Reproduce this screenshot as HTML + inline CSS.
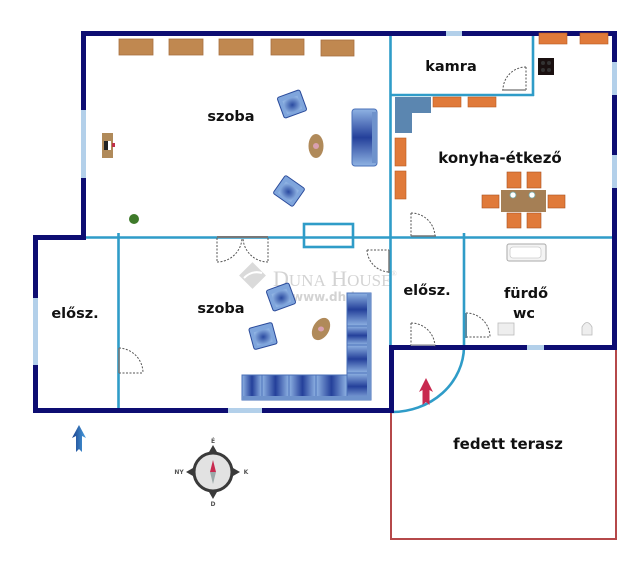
<!DOCTYPE html>
<html><head><meta charset="utf-8"><style>
html,body{margin:0;padding:0;background:#fff;}
svg{display:block;}
text{font-family:"DejaVu Sans","Liberation Sans",sans-serif;font-weight:bold;fill:#111;}
</style></head><body>
<svg width="640" height="561" viewBox="0 0 640 561" xmlns="http://www.w3.org/2000/svg">
<defs>
<linearGradient id="bh" x1="0" y1="0" x2="1" y2="0">
<stop offset="0" stop-color="#8fb3e3"/><stop offset="0.5" stop-color="#24409a"/><stop offset="1" stop-color="#8fb3e3"/>
</linearGradient>
<linearGradient id="bv" x1="0" y1="0" x2="0" y2="1">
<stop offset="0" stop-color="#8fb3e3"/><stop offset="0.5" stop-color="#24409a"/><stop offset="1" stop-color="#8fb3e3"/>
</linearGradient>
<radialGradient id="ch" cx="0.5" cy="0.5" r="0.6">
<stop offset="0" stop-color="#2a4aa0"/><stop offset="1" stop-color="#8fb3e3"/>
</radialGradient>
<linearGradient id="ab" x1="0" y1="0" x2="1" y2="0">
<stop offset="0" stop-color="#1a3f8a"/><stop offset="1" stop-color="#4aa0e0"/>
</linearGradient>
</defs>

<!-- watermark -->
<g opacity="0.9">
<rect x="243" y="266" width="19" height="19" fill="#d6d6d6" transform="rotate(45 252.5 275.5)"/>
<path d="M244 278 Q252 270 262 273" stroke="#fff" stroke-width="2" fill="none"/>
<text x="273" y="286" style="font-family:'Liberation Serif',serif;font-weight:normal;fill:#cfcfcf" font-size="22">D<tspan font-size="17">UNA</tspan> H<tspan font-size="17">OUSE</tspan><tspan font-size="7" dy="-10">®</tspan></text>
<text x="292" y="301" style="fill:#cfcfcf" font-size="12">www.dh.hu</text>
</g>

<!-- terrace -->
<path d="M391 412 V539 H616 V348" fill="none" stroke="#b5484a" stroke-width="2"/>

<!-- thin teal walls -->
<g stroke="#2f9cc8" stroke-width="2.6" fill="none">
<line x1="86" y1="237.5" x2="612" y2="237.5"/>
<line x1="390.5" y1="36" x2="390.5" y2="347"/>
<line x1="533" y1="36" x2="533" y2="96"/>
<line x1="391" y1="95" x2="534" y2="95"/>
<line x1="118.5" y1="233" x2="118.5" y2="408"/>
<line x1="464" y1="233" x2="464" y2="347"/>
<rect x="304" y="224" width="49" height="23"/>
<path d="M464 347 A72 66 0 0 1 392 412"/>
</g>

<!-- thick navy walls -->
<g fill="#0d0d72">
<rect x="81" y="31" width="536" height="5"/>
<rect x="81" y="31" width="5" height="209"/>
<rect x="33" y="235" width="53" height="5"/>
<rect x="33" y="235" width="5" height="178"/>
<rect x="33" y="408" width="361" height="5"/>
<rect x="389" y="345" width="5" height="68"/>
<rect x="389" y="345" width="228" height="5"/>
<rect x="612" y="31" width="5" height="319"/>
</g>
<!-- windows -->
<g fill="#b3d0ea">
<rect x="446" y="31" width="16" height="5"/>
<rect x="81" y="110" width="5" height="68"/>
<rect x="33" y="298" width="5" height="67"/>
<rect x="228" y="408" width="34" height="5"/>
<rect x="527" y="345" width="17" height="5"/>
<rect x="612" y="62" width="5" height="33"/>
<rect x="612" y="155" width="5" height="33"/>
</g>

<!-- upper room cabinets -->
<g fill="#c08850" stroke="#a87040" stroke-width="0.8">
<rect x="119" y="39" width="34" height="16"/>
<rect x="169" y="39" width="34" height="16"/>
<rect x="219" y="39" width="34" height="16"/>
<rect x="271" y="39" width="33" height="16"/>
<rect x="321" y="40" width="33" height="16"/>
</g>
<!-- desk & plant -->
<rect x="102" y="133" width="11" height="25" fill="#b08a5a"/>
<rect x="104" y="141" width="4" height="9" fill="#222"/>
<rect x="108" y="141" width="3" height="9" fill="#fff"/>
<rect x="112" y="143" width="3" height="4" fill="#c0304a"/>
<circle cx="134" cy="219" r="5" fill="#3e7a2a"/>

<!-- upper armchairs / sofa / table -->
<g transform="rotate(-20 292 104)">
<rect x="280" y="93" width="24" height="22" rx="2" fill="#7fa5dc" stroke="#2a4a9a" stroke-width="1"/>
<rect x="284" y="98" width="16" height="14" fill="url(#ch)"/>
</g>
<g transform="rotate(35 289 191)">
<rect x="277" y="180" width="24" height="22" rx="2" fill="#7fa5dc" stroke="#2a4a9a" stroke-width="1"/>
<rect x="281" y="185" width="16" height="14" fill="url(#ch)"/>
</g>
<ellipse cx="316" cy="146" rx="7.5" ry="12" fill="#b08a5a"/>
<ellipse cx="316" cy="146" rx="3" ry="3" fill="#d9a0b0"/>
<rect x="352" y="109" width="25" height="57" rx="3" fill="url(#bv)" stroke="#4a70b8" stroke-width="1"/>
<rect x="372" y="112" width="5" height="51" fill="#6e92cc"/>

<!-- kamra door -->
<g fill="none" stroke="#555" stroke-width="1" stroke-dasharray="2 1.5">
<path d="M526 67 A23 23 0 0 0 503 90"/>
<line x1="526" y1="67" x2="526" y2="90"/>
</g>
<line x1="502" y1="90" x2="526" y2="90" stroke="#888" stroke-width="1.5"/>

<!-- kitchen -->
<g fill="#e07a3a" stroke="#b85a20" stroke-width="0.6">
<rect x="539" y="33" width="28" height="11"/>
<rect x="580" y="33" width="28" height="11"/>
<rect x="433" y="97" width="28" height="10"/>
<rect x="468" y="97" width="28" height="10"/>
<rect x="395" y="138" width="11" height="28"/>
<rect x="395" y="171" width="11" height="28"/>
</g>
<rect x="538" y="58" width="16" height="17" fill="#1a1010"/>
<circle cx="543" cy="63" r="2" fill="#333"/><circle cx="549" cy="63" r="2" fill="#333"/>
<circle cx="543" cy="70" r="2" fill="#333"/><circle cx="549" cy="70" r="2" fill="#333"/>
<path d="M395 97 H431 V113 H412 V133 H395 Z" fill="#5b86b0"/>

<g fill="#e07a3a" stroke="#a85020" stroke-width="0.6">
<rect x="507" y="172" width="14" height="16"/>
<rect x="527" y="172" width="14" height="16"/>
<rect x="507" y="213" width="14" height="15"/>
<rect x="527" y="213" width="14" height="15"/>
<rect x="482" y="195" width="17" height="13"/>
<rect x="548" y="195" width="17" height="13"/>
</g>
<rect x="501" y="190" width="45" height="22" fill="#a57f55"/>
<circle cx="513" cy="195" r="3" fill="#fff" stroke="#7aa" stroke-width="0.8"/>
<circle cx="532" cy="195" r="3" fill="#fff" stroke="#7aa" stroke-width="0.8"/>

<!-- kitchen door -->
<g fill="none" stroke="#555" stroke-width="1" stroke-dasharray="2 1.5">
<path d="M411 213 A24 24 0 0 1 435 237"/>
<line x1="411" y1="213" x2="411" y2="237"/>
</g>
<line x1="411" y1="236" x2="436" y2="236" stroke="#777" stroke-width="1.5"/>

<!-- double door -->
<g fill="none" stroke="#555" stroke-width="1" stroke-dasharray="2 1.5">
<path d="M217 262 A25 25 0 0 0 242 238"/>
<line x1="217" y1="238" x2="217" y2="262"/>
<path d="M268 262 A25 25 0 0 1 243 238"/>
<line x1="268" y1="238" x2="268" y2="262"/>
</g>
<line x1="217" y1="237" x2="268" y2="237" stroke="#777" stroke-width="2"/>

<!-- door near előszoba -->
<g fill="none" stroke="#555" stroke-width="1" stroke-dasharray="2 1.5">
<path d="M367 250 A23 23 0 0 0 389 272"/>
<line x1="367" y1="250" x2="389" y2="250"/>
</g>
<line x1="389" y1="250" x2="389" y2="273" stroke="#777" stroke-width="1.5"/>

<!-- lower left door -->
<g fill="none" stroke="#555" stroke-width="1" stroke-dasharray="2 1.5">
<path d="M119 348 A25 25 0 0 1 143 373"/>
<line x1="119" y1="373" x2="143" y2="373"/>
</g>
<line x1="119" y1="348" x2="119" y2="373" stroke="#777" stroke-width="1.5"/>

<!-- előszoba right door -->
<g fill="none" stroke="#555" stroke-width="1" stroke-dasharray="2 1.5">
<path d="M411 323 A24 24 0 0 1 435 347"/>
<line x1="411" y1="323" x2="411" y2="347"/>
</g>
<line x1="411" y1="345" x2="435" y2="345" stroke="#aaa" stroke-width="1.5"/>

<!-- fürdő door -->
<g fill="none" stroke="#555" stroke-width="1" stroke-dasharray="2 1.5">
<path d="M466 313 A24 24 0 0 1 490 337"/>
<line x1="466" y1="337" x2="490" y2="337"/>
</g>
<line x1="466" y1="313" x2="466" y2="338" stroke="#5a8aa0" stroke-width="2"/>

<!-- bathroom -->
<rect x="507" y="244" width="39" height="17" rx="2" fill="#f4f4f4" stroke="#aaa" stroke-width="1"/>
<rect x="510" y="247" width="31" height="11" rx="3" fill="#fff" stroke="#ccc" stroke-width="0.8"/>
<rect x="498" y="323" width="16" height="12" fill="#eee" stroke="#bbb" stroke-width="0.8"/>
<path d="M582 335 V327 Q587 318 592 327 V335 Z" fill="#eee" stroke="#bbb" stroke-width="0.8"/>

<!-- lower armchairs, table, sofa -->
<g transform="rotate(-20 281 297)">
<rect x="269" y="286" width="24" height="22" rx="2" fill="#7fa5dc" stroke="#2a4a9a" stroke-width="1"/>
<rect x="273" y="291" width="16" height="14" fill="url(#ch)"/>
</g>
<g transform="rotate(-15 263 336)">
<rect x="251" y="325" width="24" height="22" rx="2" fill="#7fa5dc" stroke="#2a4a9a" stroke-width="1"/>
<rect x="255" y="330" width="16" height="14" fill="url(#ch)"/>
</g>
<ellipse cx="321" cy="329" rx="8" ry="12" fill="#b08a5a" transform="rotate(30 321 329)"/>
<ellipse cx="321" cy="329" rx="3" ry="2.5" fill="#d9a0b0"/>

<g stroke="#4a70b8" stroke-width="1">
<rect x="242" y="375" width="20" height="25" fill="url(#bh)"/>
<rect x="262" y="375" width="27" height="25" fill="url(#bh)"/>
<rect x="289" y="375" width="27" height="25" fill="url(#bh)"/>
<rect x="316" y="375" width="31" height="25" fill="url(#bh)"/>
<rect x="347" y="293" width="24" height="33" fill="url(#bv)"/>
<rect x="347" y="326" width="24" height="19" fill="url(#bv)"/>
<rect x="347" y="345" width="24" height="28" fill="url(#bv)"/>
<rect x="347" y="373" width="24" height="27" fill="url(#bv)"/>
</g>
<rect x="242" y="396" width="129" height="4" fill="#6e92cc"/>
<rect x="367" y="293" width="4" height="107" fill="#6e92cc"/>

<!-- arrows -->
<path d="M79 425 L86 438 L82 436 L82 452 L79 449 L76 452 L76 436 L72 438 Z" fill="url(#ab)"/>
<path d="M426 378 L433 392 L429.5 390 L429.5 405 L426 402 L422.5 405 L422.5 390 L419 392 Z" fill="#c8294f"/>

<!-- compass -->
<g>
<circle cx="213" cy="472" r="19" fill="#e2e2e2" stroke="#3a3a3a" stroke-width="3"/>
<path d="M213 445 L217 452 L209 452 Z M213 499 L217 492 L209 492 Z M186 472 L193 468 L193 476 Z M240 472 L233 468 L233 476 Z" fill="#3a3a3a"/>
<path d="M213 460 L216 472 L210 472 Z" fill="#c8294f"/>
<path d="M213 484 L216 472 L210 472 Z" fill="#9aa8a8"/>
<text x="213" y="443" text-anchor="middle" font-size="6" style="fill:#555">É</text>
<text x="213" y="506" text-anchor="middle" font-size="6" style="fill:#555">D</text>
<text x="179" y="474" text-anchor="middle" font-size="6" style="fill:#555">NY</text>
<text x="246" y="474" text-anchor="middle" font-size="6" style="fill:#555">K</text>
</g>

<!-- labels -->
<text x="231" y="121" text-anchor="middle" font-size="14.5">szoba</text>
<text x="451" y="71" text-anchor="middle" font-size="14.5">kamra</text>
<text x="500" y="163" text-anchor="middle" font-size="15">konyha-étkező</text>
<text x="221" y="313" text-anchor="middle" font-size="14.5">szoba</text>
<text x="75" y="318" text-anchor="middle" font-size="14.5">elősz.</text>
<text x="427" y="295" text-anchor="middle" font-size="14.5">elősz.</text>
<text x="526" y="298" text-anchor="middle" font-size="14.5">fürdő</text>
<text x="524" y="318" text-anchor="middle" font-size="14.5">wc</text>
<text x="508" y="449" text-anchor="middle" font-size="15">fedett terasz</text>
</svg>
</body></html>
